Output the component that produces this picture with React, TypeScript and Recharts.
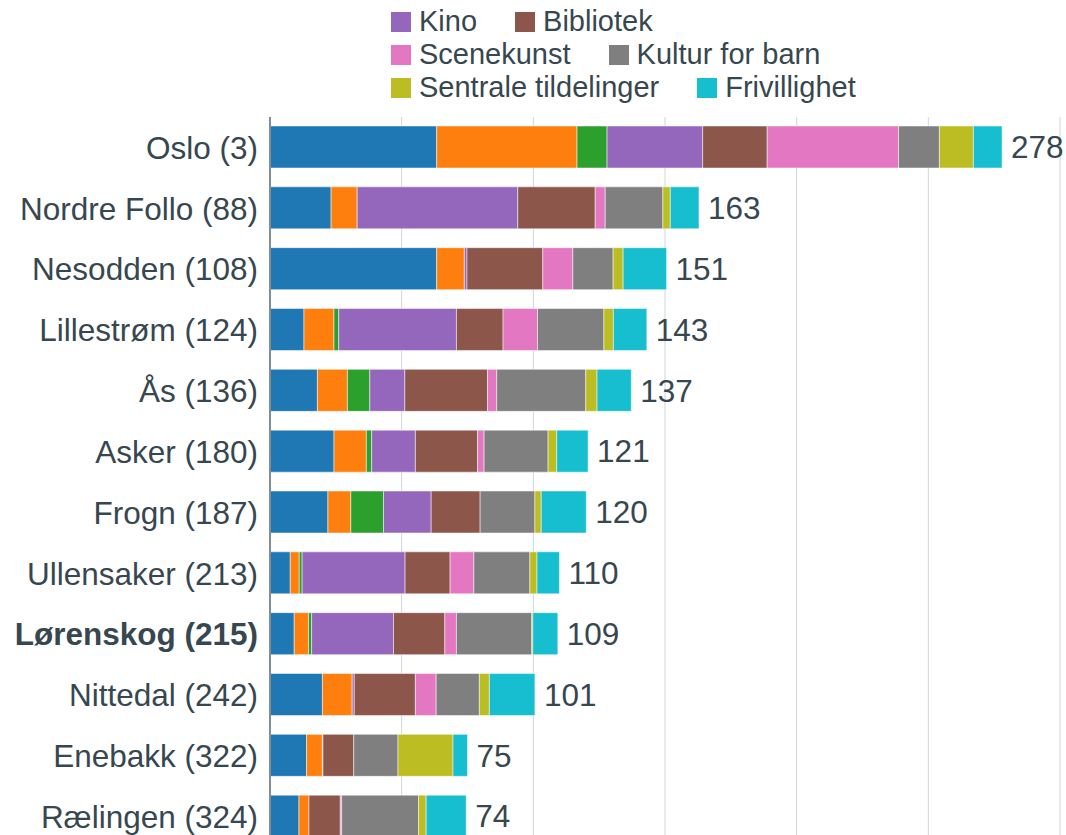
import React from "react";
import { BarChart, Bar, XAxis, YAxis, CartesianGrid, LabelList } from "recharts";

const categories = [
  "Oslo (3)",
  "Nordre Follo (88)",
  "Nesodden (108)",
  "Lillestrøm (124)",
  "Ås (136)",
  "Asker (180)",
  "Frogn (187)",
  "Ullensaker (213)",
  "Lørenskog (215)",
  "Nittedal (242)",
  "Enebakk (322)",
  "Rælingen (324)",
];
const boldCategories = ["Lørenskog (215)"];

const kunstnere = [63.3, 23.2, 63.3, 12.9, 18.0, 24.3, 22.0, 7.7, 9.2, 19.9, 13.9, 11.0];
const kulturarbeidere = [53.3, 9.9, 10.5, 11.4, 11.4, 12.3, 8.7, 3.4, 5.4, 11.3, 6.0, 3.8];
const museum = [11.4, 0, 0, 1.8, 8.5, 2.0, 12.4, 1.1, 1.2, 0, 0, 0];
const kino = [36.3, 61.0, 1.0, 44.7, 13.3, 16.6, 18.1, 39.1, 31.1, 0.8, 0.2, 0];
const bibliotek = [24.5, 29.4, 28.8, 17.7, 31.4, 23.6, 18.6, 17.1, 19.5, 23.2, 11.7, 11.9];
const scenekunst = [49.9, 3.8, 11.4, 13.1, 3.5, 2.5, 0, 9.0, 4.4, 7.9, 0, 0.5];
const kulturForBarn = [15.5, 21.9, 15.3, 25.2, 33.8, 24.3, 20.8, 21.3, 28.6, 16.4, 16.8, 29.2];
const sentraleTildelinger = [12.9, 2.8, 3.8, 3.6, 4.3, 3.3, 2.4, 2.7, 0.4, 3.8, 20.9, 2.9];
const frivillighet = [10.9, 10.9, 16.5, 12.7, 13.0, 11.9, 17.1, 8.5, 9.5, 17.3, 5.5, 15.2];
const totals = [278, 163, 151, 143, 137, 121, 120, 110, 109, 101, 75, 74];

const xTicks = [0, 50, 100, 150, 200, 250, 300];

const series = [
  { key: "kunstnere", name: "Kunstnere", color: "#1f77b4", values: kunstnere },
  { key: "kulturarbeidere", name: "Kulturarbeidere", color: "#ff7f0e", values: kulturarbeidere },
  { key: "museum", name: "Museum", color: "#2ca02c", values: museum },
  { key: "kino", name: "Kino", color: "#9467bd", values: kino },
  { key: "bibliotek", name: "Bibliotek", color: "#8c564b", values: bibliotek },
  { key: "scenekunst", name: "Scenekunst", color: "#e377c2", values: scenekunst },
  { key: "kulturForBarn", name: "Kultur for barn", color: "#7f7f7f", values: kulturForBarn },
  { key: "sentrale", name: "Sentrale tildelinger", color: "#bcbd22", values: sentraleTildelinger },
  { key: "frivillighet", name: "Frivillighet", color: "#17becf", values: frivillighet },
];

const legendRows = [
  ["Kino", "Bibliotek"],
  ["Scenekunst", "Kultur for barn"],
  ["Sentrale tildelinger", "Frivillighet"],
];

const data = categories.map((name, i) => {
  const row: Record<string, any> = { name, total: totals[i] };
  series.forEach((s) => {
    row[s.key] = s.values[i];
  });
  return row;
});

const FONT = '"Liberation Sans", Arial, Helvetica, sans-serif';
const TEXT = "#37474f";
const FS = 31.5;
const LEGEND_FS = 29;

const YTick = (props: any) => {
  const { x, y, payload } = props;
  const bold = boldCategories.includes(payload.value);
  return (
    <text
      x={x - 4}
      y={y}
      dy="0.36em"
      textAnchor="end"
      fill={TEXT}
      fontSize={FS}
      fontFamily={FONT}
      fontWeight={bold ? 700 : 400}
    >
      {payload.value}
    </text>
  );
};

const Legend = () => (
  <div
    style={{
      position: "absolute",
      left: 391,
      top: 5,
      fontFamily: FONT,
      fontSize: LEGEND_FS,
      color: TEXT,
      lineHeight: "33px",
    }}
  >
    {legendRows.map((row, ri) => (
      <div key={ri} style={{ display: "flex", height: 33, alignItems: "center", whiteSpace: "nowrap" }}>
        {row.map((n) => {
          const s = series.find((q) => q.name === n)!;
          return (
            <div key={n} style={{ display: "flex", alignItems: "center", marginRight: 38 }}>
              <span style={{ display: "inline-block", width: 20, height: 20, background: s.color, marginRight: 8 }} />
              <span>{n}</span>
            </div>
          );
        })}
      </div>
    ))}
  </div>
);

export default function App() {
  return (
    <div
      style={{
        position: "absolute",
        left: 0,
        top: 0,
        width: 1066,
        height: 835,
        overflow: "hidden",
        background: "#ffffff",
      }}
    >
      <Legend />
      <BarChart
        width={1066}
        height={852}
        data={data}
        layout="vertical"
        margin={{ top: 117, right: 6, bottom: 5, left: 0 }}
      >
        <CartesianGrid horizontal={false} vertical={true} stroke="#cdd6dd" strokeWidth={1} />
        <XAxis type="number" domain={[0, 300]} ticks={xTicks} hide allowDataOverflow />
        <YAxis
          type="category"
          dataKey="name"
          width={270}
          tick={<YTick />}
          tickLine={false}
          axisLine={{ stroke: "#7f8e98", strokeWidth: 2 }}
          interval={0}
        />
        {series.map((s, idx) => (
          <Bar
            key={s.key}
            dataKey={s.key}
            name={s.name}
            stackId="a"
            fill={s.color}
            stroke="#ffffff"
            strokeWidth={0.5}
            barSize={42}
            isAnimationActive={false}
          >
            {idx === series.length - 1 && (
              <LabelList
                dataKey="total"
                position="right"
                offset={9}
                fill={TEXT}
                fontSize={FS}
                fontFamily={FONT}
              />
            )}
          </Bar>
        ))}
      </BarChart>
    </div>
  );
}
